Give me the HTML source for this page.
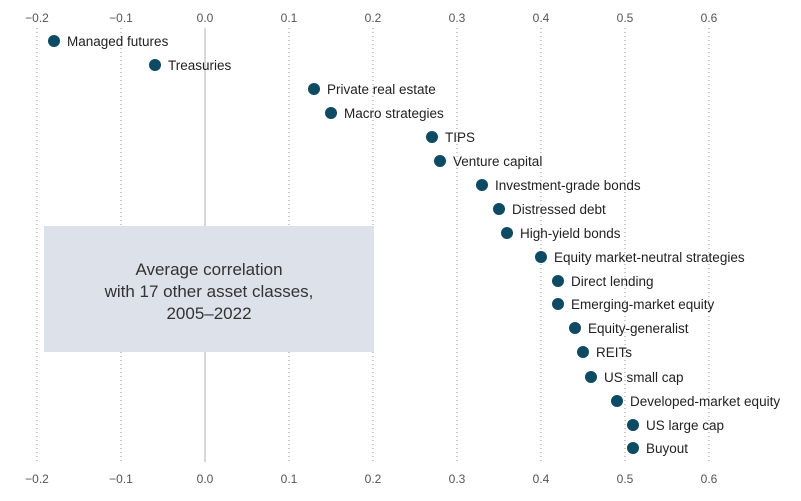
<!DOCTYPE html>
<html><head><meta charset="utf-8"><style>
body{margin:0;background:#fff;}
svg text{font-family:"Liberation Sans",sans-serif;}
</style></head><body>
<svg width="801" height="496" viewBox="0 0 801 496" xmlns="http://www.w3.org/2000/svg">
<g stroke="#9a9a9a" stroke-width="1" stroke-dasharray="1,3">
<line x1="37" y1="28" x2="37" y2="462"/>
<line x1="121" y1="28" x2="121" y2="462"/>
<line x1="289" y1="28" x2="289" y2="462"/>
<line x1="373" y1="28" x2="373" y2="462"/>
<line x1="457" y1="28" x2="457" y2="462"/>
<line x1="541" y1="28" x2="541" y2="462"/>
<line x1="625" y1="28" x2="625" y2="462"/>
<line x1="709" y1="28" x2="709" y2="462"/>
</g>
<line x1="205" y1="28" x2="205" y2="462" stroke="#b0b0b0" stroke-width="1"/>
<g font-size="12" fill="#555" text-anchor="middle">
<text x="37" y="22">−0.2</text><text x="121" y="22">−0.1</text><text x="205" y="22">0.0</text><text x="289" y="22">0.1</text><text x="373" y="22">0.2</text><text x="457" y="22">0.3</text><text x="541" y="22">0.4</text><text x="625" y="22">0.5</text><text x="709" y="22">0.6</text>
<text x="37" y="483">−0.2</text><text x="121" y="483">−0.1</text><text x="205" y="483">0.0</text><text x="289" y="483">0.1</text><text x="373" y="483">0.2</text><text x="457" y="483">0.3</text><text x="541" y="483">0.4</text><text x="625" y="483">0.5</text><text x="709" y="483">0.6</text>
</g>
<rect x="44" y="226" width="330" height="126" fill="#dde1ea"/>
<g font-size="17" fill="#333" text-anchor="middle">
<text x="209" y="275">Average correlation</text>
<text x="209" y="297">with 17 other asset classes,</text>
<text x="209" y="319">2005–2022</text>
</g>
<g fill="#0d4a63">
<circle cx="54" cy="41" r="6"/><circle cx="155" cy="65" r="6"/><circle cx="314" cy="89" r="6"/><circle cx="331" cy="113" r="6"/><circle cx="432" cy="137" r="6"/><circle cx="440" cy="161" r="6"/><circle cx="482" cy="185" r="6"/><circle cx="499" cy="209" r="6"/><circle cx="507" cy="233" r="6"/><circle cx="541" cy="257" r="6"/><circle cx="558" cy="281" r="6"/><circle cx="558" cy="304" r="6"/><circle cx="575" cy="328" r="6"/><circle cx="583" cy="352" r="6"/><circle cx="591" cy="377" r="6"/><circle cx="617" cy="401" r="6"/><circle cx="633" cy="425" r="6"/><circle cx="633" cy="448" r="6"/>
</g>
<g font-size="13.5" fill="#222">
<text x="67" y="46">Managed futures</text>
<text x="168" y="70">Treasuries</text>
<text x="327" y="94">Private real estate</text>
<text x="344" y="118">Macro strategies</text>
<text x="445" y="142">TIPS</text>
<text x="453" y="166">Venture capital</text>
<text x="495" y="190">Investment-grade bonds</text>
<text x="512" y="214">Distressed debt</text>
<text x="520" y="238">High-yield bonds</text>
<text x="554" y="262">Equity market-neutral strategies</text>
<text x="571" y="286">Direct lending</text>
<text x="571" y="309">Emerging-market equity</text>
<text x="588" y="333">Equity-generalist</text>
<text x="596" y="357">REITs</text>
<text x="604" y="382">US small cap</text>
<text x="630" y="406">Developed-market equity</text>
<text x="646" y="430">US large cap</text>
<text x="646" y="453">Buyout</text>
</g>
</svg>
</body></html>
